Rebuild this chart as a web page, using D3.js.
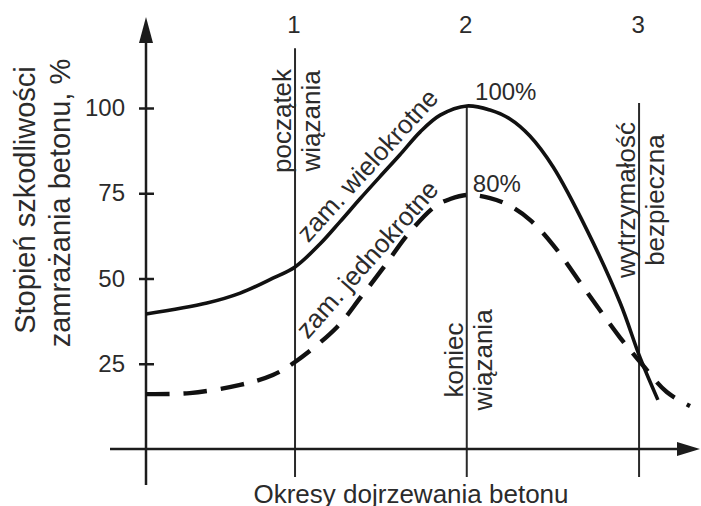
<!DOCTYPE html>
<html><head><meta charset="utf-8">
<script src="https://cdn.jsdelivr.net/npm/d3@7"></script>
<style>
body{margin:0;background:#fff}
svg{display:block}
text{font-family:"Liberation Sans",Arial,Helvetica,sans-serif;fill:#2b2b2b}
</style>
</head><body>
<svg id="c" width="701" height="506"></svg>
<script>
// ---- data ----
const yTicks = [25, 50, 75, 100];
const periodLabels = ["1", "2", "3"];
const periodT = [26.9, 57.9, 89.0];
const periodTopV = [117.5, 100.6, 101.5];
const periodNotes = [["początek", "wiązania"], ["koniec", "wiązania"], ["wytrzymałość", "bezpieczna"]];
const periodNoteV = [96.2, 26.1, 73.0];

const multiT = [0, 11, 17, 22.9, 26.9, 31.4, 35, 38.6, 42.2, 45.8, 49.5, 53.1, 57.9, 62.1, 65.7, 69.3, 73.5, 79.6, 85.6, 89.2, 92.4];
const multiV = [39.6, 42.8, 45.7, 50.1, 53.4, 60.1, 66.6, 73.3, 79.8, 86.2, 93.0, 97.9, 100.6, 99.4, 96.8, 91.8, 82.7, 64.2, 42.8, 26.7, 14.4];
const singleT = [0, 7.9, 17, 22.9, 26.9, 34.5, 38.8, 43.1, 47.3, 52.3, 54.9, 57.9, 62.1, 65.7, 69.3, 73.5, 79.6, 85.6, 89.2, 94, 98.2];
const singleV = [16.1, 16.4, 18.8, 21.7, 25.5, 35.8, 44.6, 53.7, 63.0, 71.3, 73.3, 74.5, 73.6, 71.3, 67.2, 59.8, 46.0, 32.6, 25.5, 16.7, 12.6];

const curveLabels = ["zam. wielokrotne", "zam. jednokrotne"];
const curveLabelT = [29.3, 29.2];
const curveLabelV = [60.3, 32.0];
const curveLabelAngle = [-47.7, -48.5];

const peakLabels = ["100%", "80%"];
const peakLabelT = [59.4, 59.0];
const peakLabelV = [102.3, 75.4];

const yTitle = ["Stopień szkodliwości", "zamrażania betonu, %"];
const xTitle = "Okresy dojrzewania betonu";

// ---- layout ----
const svg = d3.select("#c");
const x = d3.scaleLinear().domain([0, 100]).range([146, 700]);
const y = d3.scaleLinear().domain([0, 100]).range([449, 108]);
const ink = "#1c1c1c";

// period vertical lines
periodT.forEach((t, i) => {
  svg.append("line").attr("x1", x(t)).attr("x2", x(t))
    .attr("y1", y(periodTopV[i])).attr("y2", y(0) + 28)
    .attr("stroke", "#2a2a2a").attr("stroke-width", 2);
  svg.append("text").attr("x", x(t) - 1).attr("y", 33).attr("text-anchor", "middle")
    .attr("font-size", 24).text(periodLabels[i]);
  const notes = periodNotes[i];
  const cy = y(periodNoteV[i]);
  svg.append("text").attr("transform", `translate(${x(t) - 4},${cy}) rotate(-90)`)
    .attr("text-anchor", "middle").attr("font-size", 26).text(notes[0]);
  svg.append("text").attr("transform", `translate(${x(t) + 25},${cy}) rotate(-90)`)
    .attr("text-anchor", "middle").attr("font-size", 26).text(notes[1]);
});

// axes
const xa0 = 110, xaTip = x(100), ya0 = y(0);
svg.append("line").attr("x1", xa0).attr("x2", xaTip - 20).attr("y1", ya0).attr("y2", ya0)
  .attr("stroke", ink).attr("stroke-width", 2.5);
svg.append("path").attr("d", `M${xaTip},${ya0} L${xaTip - 23},${ya0 - 7} L${xaTip - 23},${ya0 + 7} Z`).attr("fill", ink);
const yaTip = 17, yaBot = 485;
svg.append("line").attr("x1", x(0)).attr("x2", x(0)).attr("y1", yaBot).attr("y2", yaTip + 20)
  .attr("stroke", ink).attr("stroke-width", 2.5);
svg.append("path").attr("d", `M${x(0)},${yaTip} L${x(0) - 7},${yaTip + 26} L${x(0) + 7},${yaTip + 26} Z`).attr("fill", ink);

const yAxis = d3.axisLeft(y).tickValues(yTicks).tickSize(0).tickPadding(21);
const gy = svg.append("g").attr("transform", `translate(${x(0)},0)`).call(yAxis);
gy.select(".domain").remove();
gy.selectAll("text").attr("font-size", 24).attr("font-family", '"Liberation Sans",Arial,sans-serif').attr("fill", "#2b2b2b");
gy.selectAll(".tick").append("line").attr("x1", -7).attr("x2", 8).attr("stroke", ink).attr("stroke-width", 2.5);

// curves
const line = d3.line().x(d => x(d[0])).y(d => y(d[1])).curve(d3.curveCatmullRom.alpha(0.5));
const multi = multiT.map((t, i) => [t, multiV[i]]);
const single = singleT.map((t, i) => [t, singleV[i]]);
svg.append("path").attr("d", line(multi)).attr("fill", "none").attr("stroke", "#111").attr("stroke-width", 3.6);
const dp = svg.append("path").attr("d", line(single)).attr("fill", "none").attr("stroke", "#111").attr("stroke-width", 4.4);
const L = dp.node().getTotalLength();
const n = Math.round((L - 4) / 38);
const P = (L - 4) / n;
dp.attr("stroke-dasharray", `${P * 24 / 38} ${P * 14 / 38}`);

// curve labels
curveLabels.forEach((s, i) => {
  svg.append("text").attr("transform", `translate(${x(curveLabelT[i])},${y(curveLabelV[i])}) rotate(${curveLabelAngle[i]})`)
    .attr("font-size", 26).text(s);
});
peakLabels.forEach((s, i) => {
  svg.append("text").attr("x", x(peakLabelT[i])).attr("y", y(peakLabelV[i])).attr("font-size", 24).text(s);
});

// titles
svg.append("text").attr("transform", `translate(35,200) rotate(-90)`).attr("text-anchor", "middle")
  .attr("font-size", 29).text(yTitle[0]);
svg.append("text").attr("transform", `translate(70,203) rotate(-90)`).attr("text-anchor", "middle")
  .attr("font-size", 29).text(yTitle[1]);
svg.append("text").attr("x", 411).attr("y", 503).attr("text-anchor", "middle").attr("font-size", 26).text(xTitle);
</script>
</body></html>
